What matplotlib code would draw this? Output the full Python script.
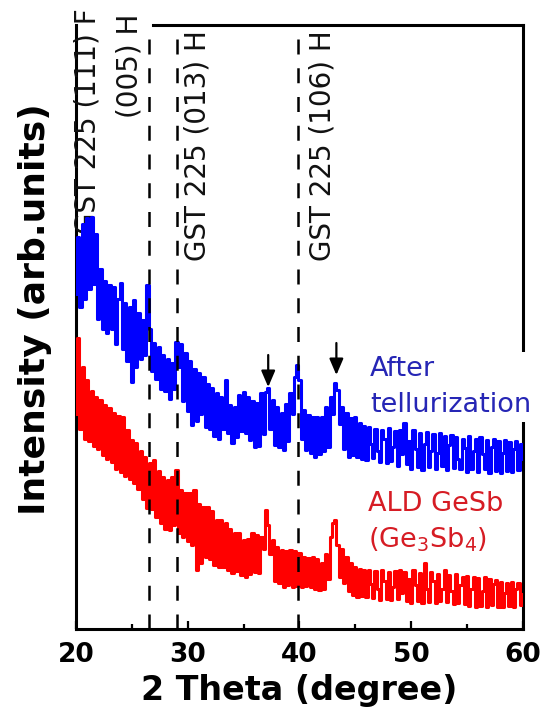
import matplotlib.pyplot as plt
import numpy as np

plt.rcParams['font.family'] = 'DejaVu Sans'
plt.rcParams['mathtext.default'] = 'regular'

# XRD scan, 0.2 deg step
two_theta = np.linspace(20, 60, 201)

# after tellurization (arb. units)
after_tell = [
    335, 392, 322, 405, 330, 411, 340, 412, 345, 395,
    310, 360, 300, 348, 296, 344, 300, 342, 285, 330,
    346, 280, 326, 268, 322, 247, 329, 262, 316, 270,
    309, 274, 344, 300, 258, 286, 250, 282, 240, 274,
    238, 270, 230, 266, 240, 287, 262, 285, 228, 276,
    218, 268, 204, 260, 208, 256, 215, 252, 202, 245,
    200, 241, 193, 236, 190, 232, 200, 249, 196, 224,
    186, 222, 192, 234, 198, 237, 196, 232, 189, 228,
    182, 226, 183, 236, 195, 237, 241, 200, 229, 184,
    222, 182, 216, 179, 225, 188, 236, 215, 252, 264,
    249, 190, 219, 179, 214, 176, 212, 172, 212, 175,
    212, 178, 222, 182, 232, 215, 246, 239, 205, 222,
    180, 216, 172, 211, 174, 212, 172, 206, 170, 203,
    169, 202, 185, 171, 200, 178, 167, 199, 190, 166,
    201, 168, 182, 198, 163, 199, 175, 206, 165, 188,
    160, 199, 180, 162, 196, 159, 185, 197, 162, 178,
    195, 160, 176, 196, 163, 193, 159, 184, 194, 161,
    192, 170, 160, 190, 181, 157, 193, 160, 178, 190,
    157, 192, 175, 160, 189, 156, 182, 190, 158, 188,
    156, 176, 189, 158, 187, 157, 180, 188, 159, 185, 170,
]

# as-deposited ALD GeSb (arb. units)
ald_gesb = [
    215, 291, 200, 262, 190, 249, 188, 238, 183, 232,
    180, 229, 174, 224, 170, 221, 167, 216, 160, 213,
    157, 212, 153, 199, 150, 189, 146, 186, 140, 178,
    130, 172, 121, 166, 120, 169, 112, 158, 106, 152,
    100, 149, 99, 152, 104, 159, 96, 139, 92, 136,
    88, 136, 84, 139, 59, 125, 66, 122, 72, 122,
    70, 118, 64, 109, 62, 109, 62, 106, 59, 100,
    56, 96, 58, 96, 54, 89, 52, 90, 55, 96,
    57, 94, 56, 92, 80, 119, 104, 75, 89, 48,
    82, 46, 79, 42, 78, 44, 79, 42, 78, 43,
    76, 42, 72, 43, 71, 42, 72, 40, 70, 39,
    66, 40, 75, 50, 92, 106, 109, 84, 52, 80,
    46, 72, 38, 66, 34, 62, 32, 60, 33, 59,
    32, 59, 45, 31, 58, 40, 29, 59, 48, 30,
    57, 29, 42, 58, 30, 59, 36, 57, 28, 50,
    26, 59, 44, 28, 56, 26, 66, 40, 27, 57,
    48, 26, 55, 28, 40, 59, 27, 54, 38, 25,
    55, 26, 44, 52, 25, 53, 23, 40, 52, 22,
    51, 23, 38, 52, 22, 50, 24, 45, 49, 22,
    47, 22, 36, 46, 23, 47, 22, 40, 46, 24, 35,
]

# reference peak positions (dashed) and unassigned peaks (arrows)
ref_lines = [26.5, 29.0, 39.9]
arrow_pos = [37.2, 43.3]
arrow_tail = [274, 286]
arrow_tip = [242, 254]

peak_labels = ['GST 225 (111) F', '(005) H', 'GST 225 (013) H', 'GST 225 (106) H']
peak_label_x = [21.0, 24.8, 30.9, 42.1]
peak_label_top = [621, 615, 599, 599]

fig = plt.figure(figsize=(5.44, 7.13), dpi=100)
ax = fig.add_axes([0.1397, 0.1178, 0.8217, 0.8471])

ax.plot(two_theta, ald_gesb, color='#ff0000', lw=2.2, drawstyle='steps-mid', zorder=4)
ax.plot(two_theta, after_tell, color='#0000ff', lw=2.2, drawstyle='steps-mid', zorder=4)

for x in ref_lines:
    ax.axvline(x, ymin=0, ymax=0.98, color='k', lw=1.8,
               linestyle=(0, (6, 5.5)), zorder=5)

for x, t0, t1 in zip(arrow_pos, arrow_tail, arrow_tip):
    ax.annotate('', xy=(x, t1), xytext=(x, t0),
                arrowprops=dict(arrowstyle='-|>,head_width=0.3,head_length=0.7',
                                color='k', lw=1.6, mutation_scale=14,
                                shrinkA=0, shrinkB=0), zorder=6)

for lab, x, top in zip(peak_labels, peak_label_x, peak_label_top):
    ax.text(x, top, lab, rotation=90, ha='center', va='top', fontsize=20,
            color='#111111', clip_on=False)

# anchored on the baseline of the second line
ax.text(46.3, 217, 'After\ntellurization', color='#2626b5', fontsize=19.5,
        ha='left', va='baseline', linespacing=1.5,
        bbox=dict(facecolor='white', edgecolor='none', pad=3))
ax.text(46.1, 82, 'ALD GeSb\n(Ge$_3$Sb$_4$)', color='#d61c24', fontsize=19.5,
        ha='left', va='baseline', linespacing=1.35,
        bbox=dict(facecolor='white', edgecolor='none', pad=3))

ax.set_xlim(20, 60)
ax.set_ylim(0, 604)
ax.set_xticks([20, 30, 40, 50, 60])
ax.set_xticks([25, 35, 45, 55], minor=True)
ax.set_yticks([])
ax.tick_params(axis='x', which='both', direction='in', top=False, width=1.6,
               pad=9, labelsize=19)
ax.tick_params(axis='x', which='major', length=6)
ax.tick_params(axis='x', which='minor', length=3.5)
for lbl in ax.get_xticklabels():
    lbl.set_fontweight('bold')

for s in ax.spines.values():
    s.set_linewidth(2.2)
ax.spines['top'].set_bounds(26.9, 60)

ax.set_xlabel('2 Theta (degree)', fontsize=24, fontweight='bold', labelpad=5)
ax.set_ylabel('Intensity (arb.units)', fontsize=26, fontweight='bold')
ax.yaxis.set_label_coords(-0.054, 0.53)

fig.savefig('out.png', dpi=100)
